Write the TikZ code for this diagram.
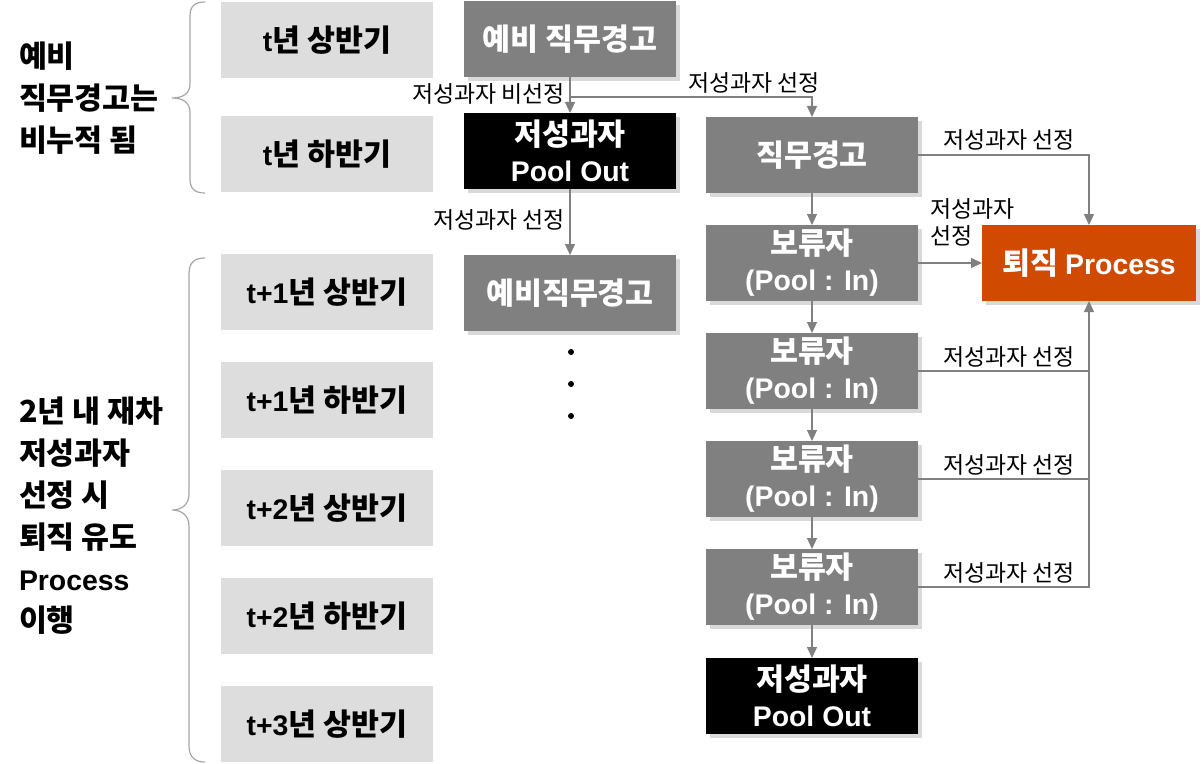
\documentclass[tikz,border=0pt]{standalone}
\usepackage{fontspec}
\setmainfont{Noto Sans CJK KR}
\newfontfamily\latinfont{Liberation Sans}[BoldFont={Liberation Sans Bold}]
\newcommand\lt[1]{{\latinfont\bfseries\fontsize{28.5}{36}\selectfont #1}}
\usetikzlibrary{arrows.meta,shadows}
\definecolor{boxgray}{HTML}{808080}
\definecolor{lightbox}{HTML}{DDDDDD}
\definecolor{orangefill}{HTML}{D04A02}
\definecolor{linegray}{HTML}{808080}
\definecolor{bracegray}{HTML}{A6A6A6}
\begin{document}
\begin{tikzpicture}[x=1bp,y=-1bp,
  every node/.style={inner sep=0pt, outer sep=0pt},
  base/.style={minimum width=212bp, minimum height=76bp, align=center,
    font=\fontsize{30.5}{36}\selectfont\bfseries},
  shadowed/.style={general shadow={fill=black!15, shadow xshift=4bp, shadow yshift=-4bp}},
  period/.style={base, fill=lightbox, text=black},
  graybox/.style={base, shadowed, fill=boxgray, text=white},
  blackbox/.style={base, shadowed, fill=black, text=white},
  orangebox/.style={base, shadowed, fill=orangefill, text=white, minimum width=214bp},
  conn/.style={draw=linegray, line width=1.2bp, -{Triangle[length=11bp,width=10bp]}},
  plainline/.style={draw=linegray, line width=1.2bp},
  lbl/.style={font=\fontsize{23}{27}\selectfont, text=black},
  sidetext/.style={font=\fontsize{30.5}{42}\selectfont\bfseries, align=left, anchor=west},
  brace/.style={draw=bracegray, line width=1.2bp}
]
\useasboundingbox (0,0) rectangle (1201,764);

% left period boxes
\node[period] (p1) at (327,40) {\lt{t}년 상반기};
\node[period] (p2) at (327,154) {\lt{t}년 하반기};
\node[period] (p3) at (327,292) {\lt{t+1}년 상반기};
\node[period] (p4) at (327,400) {\lt{t+1}년 하반기};
\node[period] (p5) at (327,508) {\lt{t+2}년 상반기};
\node[period] (p6) at (327,616) {\lt{t+2}년 하반기};
\node[period] (p7) at (327,724) {\lt{t+3}년 상반기};

% left texts
\node[sidetext] (left1) at (19,98) {예비\\직무경고는\\비누적 됨};
\node[sidetext] (left2) at (19,516) {2년 내 재차\\저성과자\\선정 시\\퇴직 유도\\\lt{Process}\\이행};

% braces
\draw[brace] (205,2) .. controls (195,2) and (190,6) .. (190,16) -- (190,84)
  .. controls (190,94) and (182,98) .. (172,98)
  .. controls (182,98) and (190,102) .. (190,112) -- (190,179)
  .. controls (190,189) and (195,193) .. (205,193);
\draw[brace] (205,258) .. controls (195,258) and (189,262) .. (189,274) -- (189,494)
  .. controls (189,505) and (181,510) .. (172,510)
  .. controls (181,510) and (189,515) .. (189,526) -- (189,746)
  .. controls (189,757) and (195,762) .. (205,762);

% middle column
\node[graybox] (prelim) at (570,39) {예비 직무경고};
\node[blackbox] (po1) at (570,151) {저성과자\\\lt{Pool Out}};
\node[graybox] (prelim2) at (570,293) {예비직무경고};

\fill (571,352) circle (3bp);
\fill (571,384) circle (3bp);
\fill (571,416) circle (3bp);

% right column
\node[graybox] (warn) at (812,155) {직무경고};
\node[graybox] (h1) at (812,263) {보류자\\\lt{(Pool : In)}};
\node[graybox] (h2) at (812,371) {보류자\\\lt{(Pool : In)}};
\node[graybox] (h3) at (812,479) {보류자\\\lt{(Pool : In)}};
\node[graybox] (h4) at (812,587) {보류자\\\lt{(Pool : In)}};
\node[blackbox] (po2) at (812,696) {저성과자\\\lt{Pool Out}};

\node[orangebox] (retire) at (1089,263) {퇴직 \lt{Process}};

% connectors
\coordinate (br) at (570,97);
\draw[conn] (prelim.south) -- (po1.north);
\draw[conn] (br) -| (warn.north);
\draw[conn] (po1.south) -- (prelim2.north);
\draw[conn] (warn.south) -- (h1.north);
\draw[conn] (h1.south) -- (h2.north);
\draw[conn] (h2.south) -- (h3.north);
\draw[conn] (h3.south) -- (h4.north);
\draw[conn] (h4.south) -- (po2.north);
\draw[conn] (warn.east) -| (retire.north);
\draw[conn] (h1.east) -- (retire.west);
\draw[plainline] (h2.east) -- (retire.south |- h2.east);
\draw[plainline] (h3.east) -- (retire.south |- h3.east);
\draw[conn] (h4.east) -| (retire.south);

% labels
\node[lbl, anchor=east] (l1) at (565,94) {저성과자 비선정};
\node[lbl, anchor=west] (l2) at (688,83) {저성과자 선정};
\node[lbl, anchor=east] (l3) at (565,220) {저성과자 선정};
\node[lbl] (l4) at (1009,140) {저성과자 선정};
\node[lbl, anchor=west, align=left] (l5) at (930,222) {저성과자\\선정};
\node[lbl] (l6) at (1009,357) {저성과자 선정};
\node[lbl] (l7) at (1009,465) {저성과자 선정};
\node[lbl] (l8) at (1009,573) {저성과자 선정};
\end{tikzpicture}
\end{document}
